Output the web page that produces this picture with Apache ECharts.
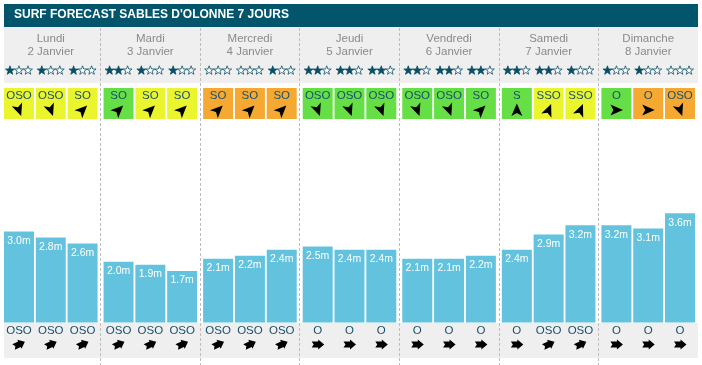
<!DOCTYPE html>
<html>
<head>
<meta charset="utf-8">
<script src="https://cdn.jsdelivr.net/npm/echarts@6/dist/echarts.min.js"></script>
<style>html,body{margin:0;padding:0;background:#fff;}#c{width:702px;height:365px;}</style>
</head>
<body>
<div id="c"></div>
<script>
// ---- data ----
var titleText = "SURF FORECAST SABLES D'OLONNE 7 JOURS";
var days = ['Lundi', 'Mardi', 'Mercredi', 'Jeudi', 'Vendredi', 'Samedi', 'Dimanche'];
var dates = ['2 Janvier', '3 Janvier', '4 Janvier', '5 Janvier', '6 Janvier', '7 Janvier', '8 Janvier'];
var heights = [3.0, 2.8, 2.6, 2.0, 1.9, 1.7, 2.1, 2.2, 2.4, 2.5, 2.4, 2.4, 2.1, 2.1, 2.2, 2.4, 2.9, 3.2, 3.2, 3.1, 3.6];
var stars = [1, 1, 1, 2, 1, 1, 0, 0, 1, 2, 2, 2, 2, 2, 2, 2, 2, 1, 1, 1, 0];
var windDir = ['OSO', 'OSO', 'SO', 'SO', 'SO', 'SO', 'SO', 'SO', 'SO', 'OSO', 'OSO', 'OSO', 'OSO', 'OSO', 'SO', 'S', 'SSO', 'SSO', 'O', 'O', 'OSO'];
var windQuality = ['y', 'y', 'y', 'g', 'y', 'y', 'o', 'o', 'o', 'g', 'g', 'g', 'g', 'g', 'g', 'g', 'y', 'y', 'g', 'o', 'o'];
var swellDir = ['OSO', 'OSO', 'OSO', 'OSO', 'OSO', 'OSO', 'OSO', 'OSO', 'OSO', 'O', 'O', 'O', 'O', 'O', 'O', 'O', 'OSO', 'OSO', 'O', 'O', 'O'];

// ---- styles ----
var FONT = "'Liberation Sans', Arial, sans-serif";
var TEAL = '#02556b';
var STAR = '#0b4f66';
var TXT = '#174f6c';
var BAR = '#63c3df';
var QCOL = { y: '#ebf52e', g: '#66de45', o: '#f6a932' };
var WIND_ANGLE = { O: 0, OSO: 70, SO: -45, SSO: -67.5, S: -90 };
var SWELL_ANGLE = { O: 0, OSO: -25 };
var NAV = [[6.5, 0], [-6, -5.5], [-3, 0], [-6, 5.5]];
var FAT = [[-6, -3], [0.5, -3], [0.5, -5], [6.5, 0], [0.5, 5], [0.5, 3], [-6, 3], [-4, 0]];
var SLOT = 31.8;

function rot(pts, deg, cx, cy) {
  var a = deg * Math.PI / 180, c = Math.cos(a), s = Math.sin(a);
  return pts.map(function (p) { return [cx + p[0] * c - p[1] * s, cy + p[0] * s + p[1] * c]; });
}
function starPts(cx, cy, R, r) {
  var out = [];
  for (var k = 0; k < 10; k++) {
    var a = (-90 + k * 36) * Math.PI / 180, rr = k % 2 ? r : R;
    out.push([cx + rr * Math.cos(a), cy + rr * Math.sin(a)]);
  }
  return out;
}

var slotData = heights.map(function (h, i) { return [Math.floor(i / 3), i % 3]; });

var barSeries = [0, 1, 2].map(function (k) {
  return {
    type: 'bar',
    barWidth: 30,
    barGap: '6%',
    data: days.map(function (d, i) { return heights[i * 3 + k]; }),
    itemStyle: { color: BAR },
    label: {
      show: true, position: 'insideTop', distance: 4,
      color: '#fff', fontSize: 10.5, fontFamily: FONT,
      formatter: function (p) { return p.value.toFixed(1) + 'm'; }
    },
    silent: true
  };
});

var chart = echarts.init(document.getElementById('c'));
chart.setOption({
  animation: false,
  textStyle: { fontFamily: FONT },
  title: {
    text: titleText, left: 14, top: 9, padding: 0,
    textStyle: { color: '#fff', fontSize: 12, fontWeight: 'bold', fontFamily: FONT }
  },
  graphic: [
    { type: 'rect', z: -10, shape: { x: 4, y: 4, width: 694, height: 23 }, style: { fill: TEAL } },
    { type: 'rect', z: -10, shape: { x: 4, y: 27, width: 694, height: 56 }, style: { fill: '#efefef' } },
    { type: 'rect', z: -10, shape: { x: 4, y: 323, width: 694, height: 35 }, style: { fill: '#efefef' } }
  ],
  grid: { left: 1, right: 4, top: 28, bottom: 0 },
  xAxis: {
    type: 'category',
    position: 'top',
    data: days.map(function (d, i) { return d + '\n' + dates[i]; }),
    axisLine: { show: false },
    axisTick: { show: false },
    axisLabel: {
      inside: true, interval: 0, margin: 5, verticalAlign: 'top',
      color: '#8a8a8a', fontSize: 11.5, lineHeight: 12.5, fontFamily: FONT
    },
    splitLine: {
      show: true, showMinLine: false, showMaxLine: false,
      lineStyle: { color: '#bdbdbd', type: [3, 2], width: 1 }
    }
  },
  yAxis: { type: 'value', min: -1.4, max: 9.7, show: false, splitLine: { show: false } },
  series: barSeries.concat([{
    type: 'custom',
    data: slotData,
    encode: { x: 0, y: 1 },
    silent: true,
    renderItem: function (params, api) {
      var i = params.dataIndex;
      var day = api.value(0), slot = api.value(1);
      var cx = api.coord([day, 0])[0] + (slot - 1) * SLOT;
      var ch = [];
      for (var s = 0; s < 3; s++) {
        ch.push({
          type: 'polygon', shape: { points: starPts(cx + (s - 1) * 9, 70.5, 4.7, 1.9) },
          style: { fill: s < stars[i] ? STAR : '#fff', stroke: STAR, lineWidth: 0.8 }
        });
      }
      ch.push({ type: 'rect', shape: { x: cx - 15, y: 88, width: 30, height: 31 }, style: { fill: QCOL[windQuality[i]] } });
      ch.push({ type: 'text', style: { text: windDir[i], x: cx, y: 96, align: 'center', verticalAlign: 'middle', fill: TXT, fontSize: 11.5, fontFamily: FONT } });
      ch.push({ type: 'polygon', shape: { points: rot(NAV, WIND_ANGLE[windDir[i]], cx, 110) }, style: { fill: '#000' } });
      ch.push({ type: 'text', style: { text: swellDir[i], x: cx, y: 331, align: 'center', verticalAlign: 'middle', fill: TXT, fontSize: 11.5, fontFamily: FONT } });
      ch.push({ type: 'polygon', shape: { points: rot(FAT, SWELL_ANGLE[swellDir[i]], cx, 344.5) }, style: { fill: '#000' } });
      return { type: 'group', children: ch };
    }
  }])
});
</script>
</body>
</html>
